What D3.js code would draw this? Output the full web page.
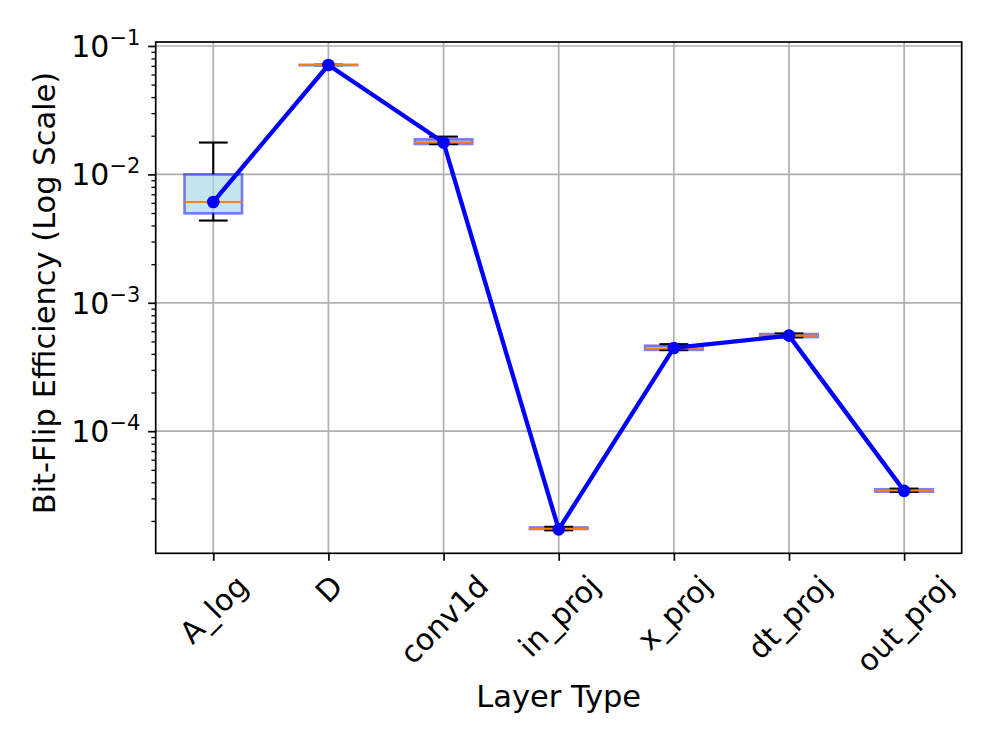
<!DOCTYPE html>
<html>
<head>
<meta charset="utf-8">
<script src="https://cdn.jsdelivr.net/npm/d3@7"></script>
<style>
  body { margin: 0; background: #fff; }
  svg { display: block; font-family: "DejaVu Sans", sans-serif; }
</style>
</head>
<body>
<svg id="chart" width="996" height="747"></svg>
<script>
// layer types on the x axis
var categories = ["A_log", "D", "conv1d", "in_proj", "x_proj", "dt_proj", "out_proj"];

// box statistics per layer
var whiskerLow  = [0.00437, 0.0708, 0.0172,  1.69e-5, 4.28e-4, 5.38e-4, 3.37e-5];
var quartile1   = [0.00497, 0.0709, 0.01725, 1.73e-5, 4.30e-4, 5.41e-4, 3.38e-5];
var medians     = [0.0061,  0.0711, 0.01774, 1.74e-5, 4.41e-4, 5.55e-4, 3.45e-5];
var quartile3   = [0.0100,  0.0713, 0.01874, 1.78e-5, 4.63e-4, 5.71e-4, 3.53e-5];
var whiskerHigh = [0.0177,  0.0714, 0.01968, 1.80e-5, 4.76e-4, 5.77e-4, 3.57e-5];

// values joined by the blue line
var lineValues  = [0.0061,  0.0711, 0.0177,  1.72e-5, 4.45e-4, 5.55e-4, 3.43e-5];

// y tick exponents
var yMajorExponents = [-4, -3, -2, -1];

var svg = d3.select("#chart");
var margin = {left: 155.7, right: 961.7, top: 42, bottom: 553.3};

var x = d3.scalePoint()
    .domain(categories)
    .range([margin.left, margin.right])
    .padding(0.5);
var unit = x.step();

var y = d3.scaleLog()
    .domain([Math.pow(10, -4.951), Math.pow(10, -0.969)])
    .range([margin.bottom, margin.top]);

var rows = categories.map(function(c, i) {
    return {
        name: c,
        lo: whiskerLow[i],
        q1: quartile1[i],
        med: medians[i],
        q3: quartile3[i],
        hi: whiskerHigh[i],
        val: lineValues[i]
    };
});

var majors = yMajorExponents.map(function(e) { return Math.pow(10, e); });
var minors = [];
[-5, -4, -3, -2, -1].forEach(function(e) {
    for (var k = 2; k <= 9; k++) {
        var v = k * Math.pow(10, e);
        if (v >= y.domain()[0] && v <= y.domain()[1]) minors.push(v);
    }
});

// grid
var grid = svg.append("g").attr("class", "grid")
    .attr("stroke", "#b0b0b0")
    .attr("stroke-width", 1.7);
grid.selectAll("line.gx").data(categories).join("line")
    .attr("class", "gx")
    .attr("x1", function(d) { return x(d); })
    .attr("x2", function(d) { return x(d); })
    .attr("y1", margin.top).attr("y2", margin.bottom);
grid.selectAll("line.gy").data(majors).join("line")
    .attr("class", "gy")
    .attr("x1", margin.left).attr("x2", margin.right)
    .attr("y1", function(d) { return y(d); })
    .attr("y2", function(d) { return y(d); });

// boxes
var boxes = svg.append("g").attr("class", "boxes");
var box = boxes.selectAll("g.box").data(rows).join("g").attr("class", "box");

box.append("rect")
    .attr("x", function(d) { return x(d.name) - unit * 0.25; })
    .attr("width", unit * 0.5)
    .attr("y", function(d) { return y(d.q3); })
    .attr("height", function(d) { return y(d.q1) - y(d.q3); })
    .attr("fill", "#add8e6")
    .attr("fill-opacity", 0.7)
    .attr("stroke", "#0000ff")
    .attr("stroke-opacity", 0.5)
    .attr("stroke-width", 2.6);

// whiskers
box.append("line")
    .attr("x1", function(d) { return x(d.name); })
    .attr("x2", function(d) { return x(d.name); })
    .attr("y1", function(d) { return y(d.q1); })
    .attr("y2", function(d) { return y(d.lo); })
    .attr("stroke", "#000").attr("stroke-width", 2.1);
box.append("line")
    .attr("x1", function(d) { return x(d.name); })
    .attr("x2", function(d) { return x(d.name); })
    .attr("y1", function(d) { return y(d.q3); })
    .attr("y2", function(d) { return y(d.hi); })
    .attr("stroke", "#000").attr("stroke-width", 2.1);

// caps
["lo", "hi"].forEach(function(k) {
    box.append("line")
        .attr("x1", function(d) { return x(d.name) - unit * 0.125; })
        .attr("x2", function(d) { return x(d.name) + unit * 0.125; })
        .attr("y1", function(d) { return y(d[k]); })
        .attr("y2", function(d) { return y(d[k]); })
        .attr("stroke", "#000").attr("stroke-width", 2.1);
});

// medians
box.append("line")
    .attr("x1", function(d) { return x(d.name) - unit * 0.25; })
    .attr("x2", function(d) { return x(d.name) + unit * 0.25; })
    .attr("y1", function(d) { return y(d.med); })
    .attr("y2", function(d) { return y(d.med); })
    .attr("stroke", "#ff7f0e").attr("stroke-width", 2.1);

// line with markers
var line = d3.line()
    .x(function(d) { return x(d.name); })
    .y(function(d) { return y(d.val); });
svg.append("path")
    .datum(rows)
    .attr("d", line)
    .attr("fill", "none")
    .attr("stroke", "#0000ff")
    .attr("stroke-width", 4.3)
    .attr("stroke-linejoin", "round");
svg.append("g").selectAll("circle").data(rows).join("circle")
    .attr("cx", function(d) { return x(d.name); })
    .attr("cy", function(d) { return y(d.val); })
    .attr("r", 6.3)
    .attr("fill", "#0000ff");

// frame
svg.append("rect")
    .attr("x", margin.left).attr("y", margin.top)
    .attr("width", margin.right - margin.left)
    .attr("height", margin.bottom - margin.top)
    .attr("fill", "none")
    .attr("stroke", "#000")
    .attr("stroke-width", 1.7);

// y axis: minor then major ticks
var yMinor = svg.append("g")
    .attr("transform", "translate(" + margin.left + ",0)")
    .call(d3.axisLeft(y).tickValues(minors).tickSize(4.3).tickFormat(""));
yMinor.select(".domain").remove();
yMinor.selectAll(".tick line").attr("stroke-width", 1.3);

var yAxis = svg.append("g")
    .attr("transform", "translate(" + margin.left + ",0)")
    .call(d3.axisLeft(y).tickValues(majors).tickSize(7.5).tickPadding(7.5).tickFormat(""));
yAxis.select(".domain").remove();
yAxis.selectAll(".tick line").attr("stroke-width", 1.7);
yAxis.selectAll(".tick text").remove();
yAxis.selectAll(".tick").append("text")
    .attr("x", -15.3)
    .attr("y", 10.3)
    .attr("text-anchor", "end")
    .attr("fill", "#000")
    .attr("font-size", 30)
    .attr("font-family", "DejaVu Sans")
    .each(function(d) {
        var t = d3.select(this);
        var e = Math.round(Math.log10(d));
        t.append("tspan").text("10");
        t.append("tspan").attr("dy", -11.7).attr("font-size", 21)
            .text("\u2212" + Math.abs(e));
    });

// x axis
var xAxis = svg.append("g")
    .attr("transform", "translate(0," + margin.bottom + ")")
    .call(d3.axisBottom(x).tickSize(7.5).tickFormat(""));
xAxis.select(".domain").remove();
xAxis.selectAll(".tick line").attr("stroke-width", 1.7);
xAxis.selectAll(".tick").append("text")
    .attr("fill", "#000")
    .attr("font-size", 30)
    .attr("font-family", "DejaVu Sans")
    .attr("text-anchor", "middle")
    .attr("dy", "0.35em")
    .text(function(d) { return d; })
    .each(function() {
        var w = this.getComputedTextLength();
        var h = 35;
        var off = 15 + (w + h) / (2 * Math.SQRT2);
        d3.select(this).attr("transform", "translate(0," + off + ") rotate(-45)");
    });

// axis labels
svg.append("text")
    .attr("x", (margin.left + margin.right) / 2)
    .attr("y", 706.7)
    .attr("text-anchor", "middle")
    .attr("font-size", 30.5)
    .text("Layer Type");

svg.append("text")
    .attr("transform", "translate(55," + 293 + ") rotate(-90)")
    .attr("text-anchor", "middle")
    .attr("font-size", 30.5)
    .text("Bit-Flip Efficiency (Log Scale)");
</script>
</body>
</html>
